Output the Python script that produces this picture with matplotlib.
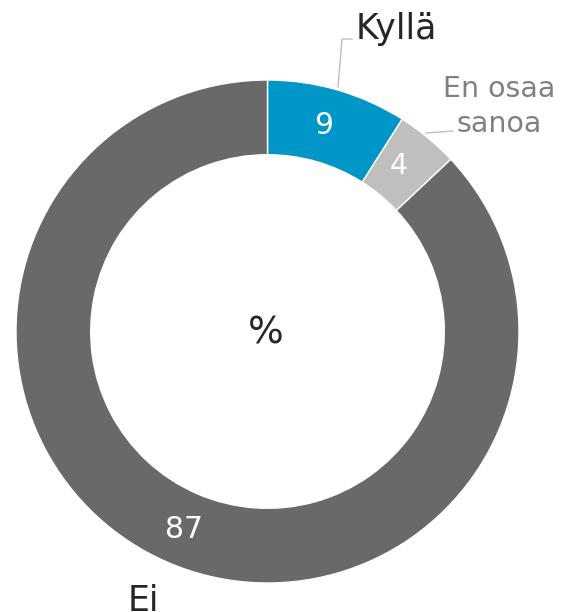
import matplotlib.pyplot as plt

labels = ["Kyllä", "En osaa\nsanoa", "Ei"]
values = [9, 4, 87]
colors = ["#0096C8", "#BFBFBF", "#696969"]

W, H = 562, 612
fig = plt.figure(figsize=(W / 100, H / 100), dpi=100)
ax = fig.add_axes([0, 0, 1, 1])

def py(y):
    # pixel row from the top -> data y
    return H - y

cx, cy, r = 267.5, py(331.5), 251.5
ax.pie(values, colors=colors, startangle=90, counterclock=False,
       center=(cx, cy), radius=r, frame=True,
       wedgeprops=dict(width=r * 0.297, edgecolor="white", linewidth=1))
ax.set_xlim(0, W)
ax.set_ylim(0, H)
ax.set_aspect("equal")
ax.axis("off")

# values inside the ring
ax.text(324, py(126), str(values[0]), color="white", fontsize=21.5, ha="center", va="center")
ax.text(399, py(166), str(values[1]), color="white", fontsize=20.5, ha="center", va="center")
ax.text(184, py(529), str(values[2]), color="white", fontsize=21.5, ha="center", va="center")
ax.text(266, py(333), "%", color="#262626", fontsize=27, ha="center", va="center")

# category labels
ax.text(396, py(39), labels[0], color="#262626", fontsize=25, ha="center", va="baseline")
ax.plot([338, 342, 352], [py(87), py(39), py(39)], color="#BFBFBF", lw=1)
ax.text(499.5, py(97), labels[1].split("\n")[0], color="#808080", fontsize=20.5, ha="center", va="baseline")
ax.text(499.5, py(132), labels[1].split("\n")[1], color="#808080", fontsize=20.5, ha="center", va="baseline")
ax.plot([426, 453], [py(133), py(131)], color="#BFBFBF", lw=1)
ax.text(128, py(611), labels[2], color="#262626", fontsize=25, ha="left", va="baseline")

fig.savefig("out.png", dpi=100)
